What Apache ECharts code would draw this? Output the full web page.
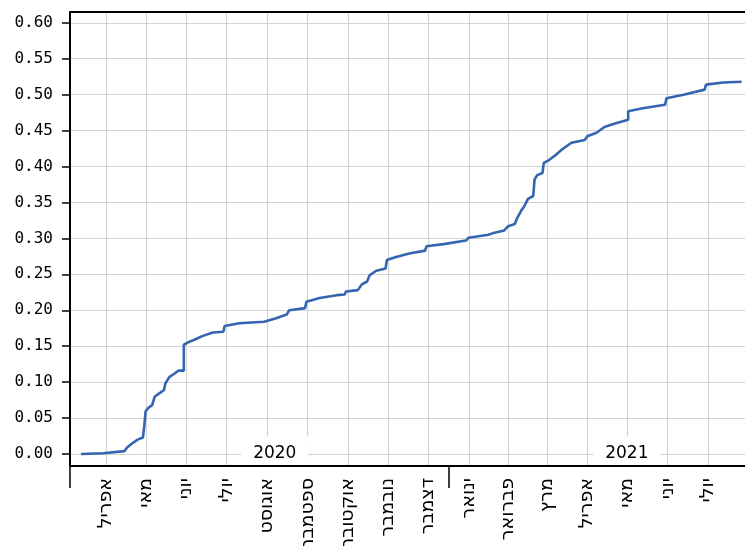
<!DOCTYPE html>
<html>
<head>
<meta charset="utf-8">
<script src="https://cdn.jsdelivr.net/npm/echarts@6/dist/echarts.min.js"></script>
<style>
html, body { margin: 0; padding: 0; background: #fff; }
#chart { width: 745px; height: 546px; }
</style>
</head>
<body>
<div id="chart"></div>
<script>
// data (a repeated date marks a vertical jump)
var dates = ['2020-03-28', '2020-04-14', '2020-04-15', '2020-04-30', '2020-05-02', '2020-05-06',
	'2020-05-10', '2020-05-14', '2020-05-15', '2020-05-15', '2020-05-16', '2020-05-16', '2020-05-18',
	'2020-05-21', '2020-05-22', '2020-05-23', '2020-05-27', '2020-05-30', '2020-05-31', '2020-06-03',
	'2020-06-07', '2020-06-10', '2020-06-14', '2020-06-14', '2020-06-18', '2020-06-22', '2020-06-28',
	'2020-07-06', '2020-07-14', '2020-07-15', '2020-07-26', '2020-08-14', '2020-08-23', '2020-08-31',
	'2020-09-02', '2020-09-14', '2020-09-15', '2020-09-25', '2020-10-08', '2020-10-14', '2020-10-15',
	'2020-10-24', '2020-10-27', '2020-10-31', '2020-11-02', '2020-11-07', '2020-11-14', '2020-11-15',
	'2020-11-15', '2020-11-22', '2020-12-02', '2020-12-14', '2020-12-15', '2020-12-28', '2021-01-14',
	'2021-01-16', '2021-01-31', '2021-02-03', '2021-02-12', '2021-02-15', '2021-02-20', '2021-02-22',
	'2021-02-25', '2021-02-27', '2021-03-02', '2021-03-06', '2021-03-07', '2021-03-07', '2021-03-09',
	'2021-03-13', '2021-03-14', '2021-03-14', '2021-03-18', '2021-03-23', '2021-03-28', '2021-04-04',
	'2021-04-14', '2021-04-16', '2021-04-23', '2021-04-29', '2021-05-07', '2021-05-17', '2021-05-17',
	'2021-05-28', '2021-06-14', '2021-06-15', '2021-06-28', '2021-07-14', '2021-07-15', '2021-07-28',
	'2021-08-11'];
var values = [0.000, 0.001, 0.003, 0.004, 0.009, 0.015,
	0.020, 0.023, 0.023, 0.038, 0.038, 0.059, 0.064,
	0.068, 0.069, 0.080, 0.085, 0.089, 0.098, 0.107,
	0.112, 0.116, 0.116, 0.152, 0.156, 0.159, 0.164,
	0.169, 0.170, 0.178, 0.182, 0.184, 0.189, 0.194,
	0.200, 0.203, 0.212, 0.217, 0.221, 0.222, 0.226,
	0.228, 0.236, 0.240, 0.249, 0.255, 0.258, 0.258,
	0.270, 0.274, 0.279, 0.283, 0.289, 0.292, 0.297,
	0.301, 0.305, 0.307, 0.311, 0.317, 0.320, 0.329,
	0.339, 0.344, 0.355, 0.359, 0.359, 0.382, 0.388,
	0.391, 0.391, 0.405, 0.409, 0.416, 0.424, 0.433,
	0.437, 0.442, 0.447, 0.455, 0.460, 0.465, 0.477,
	0.481, 0.486, 0.495, 0.500, 0.507, 0.514, 0.517,
	0.518];

var monthStarts = ['2020-04-01', '2020-05-01', '2020-06-01', '2020-07-01', '2020-08-01', '2020-09-01',
	'2020-10-01', '2020-11-01', '2020-12-01', '2021-01-01', '2021-02-01', '2021-03-01', '2021-04-01',
	'2021-05-01', '2021-06-01', '2021-07-01', '2021-08-01'];
var monthNames = ['אפריל', 'מאי', 'יוני', 'יולי', 'אוגוסט', 'ספטמבר', 'אוקטובר', 'נובמבר', 'דצמבר',
	'ינואר', 'פברואר', 'מרץ', 'אפריל', 'מאי', 'יוני', 'יולי'];
var yTicks = [0, 0.05, 0.10, 0.15, 0.20, 0.25, 0.30, 0.35, 0.40, 0.45, 0.50, 0.55, 0.60];
var yearNames = ['2020', '2021'];
var yearLabelDates = ['2020-08-22', '2021-05-16'];
var yearBreaks = ['2021-01-01'];

function t(s) {
	return new Date(s.length > 10 ? s : s + 'T00:00:00').getTime();
}

var xMin = t('2020-03-19T17:00:00');
var xMax = t('2021-08-13T14:00:00');

// gridlines and month labels sit at the middle of each month
var monthMids = [];
for (var i = 0; i < monthStarts.length - 1; i++) {
	monthMids.push((t(monthStarts[i]) + t(monthStarts[i + 1])) / 2);
}
var yearTimes = yearLabelDates.map(t);
var breakTimes = [xMin].concat(yearBreaks.map(t));

function nearest(list, v) {
	var best = 0;
	for (var i = 1; i < list.length; i++) {
		if (Math.abs(list[i] - v) < Math.abs(list[best] - v)) best = i;
	}
	return best;
}

var font = 'DejaVu Sans Mono';
var gridColor = '#d3d3d3';

var achart = echarts.init(document.getElementById('chart'));

var option = {
	animation: false,
	backgroundColor: '#fff',
	grid: { left: 70, top: 12, right: 0, bottom: 80, outerBoundsMode: 'none', containLabel: false },
	xAxis: [
		{
			type: 'value',
			min: xMin,
			max: xMax,
			axisLine: { show: false, onZero: false },
			axisTick: { show: false, customValues: monthMids },
			splitLine: { show: true, lineStyle: { color: gridColor, width: 1.2 } },
			axisLabel: {
				customValues: monthMids,
				rotate: 90,
				margin: 12,
				fontFamily: 'DejaVu Sans',
				fontSize: 19,
				color: '#000',
				formatter: function (v) { return monthNames[nearest(monthMids, v)]; }
			}
		},
		{
			type: 'value',
			min: xMin,
			max: xMax,
			position: 'bottom',
			z: 5,
			axisLine: { show: true, onZero: false, lineStyle: { color: '#000', width: 2 } },
			axisTick: { show: true, customValues: breakTimes, length: 22, lineStyle: { color: '#000', width: 1.5 } },
			splitLine: { show: false },
			axisLabel: {
				inside: true,
				margin: 1,
				customValues: yearTimes,
				backgroundColor: '#fff',
				padding: [9, 12, 3, 12],
				fontFamily: 'DejaVu Sans',
				fontSize: 17,
				color: '#000',
				formatter: function (v) { return yearNames[nearest(yearTimes, v)]; }
			}
		},
		{
			type: 'value',
			min: xMin,
			max: xMax,
			position: 'top',
			axisLine: { show: true, onZero: false, lineStyle: { color: '#000', width: 2 } },
			axisTick: { show: false },
			axisLabel: { show: false },
			splitLine: { show: false }
		}
	],
	yAxis: {
		type: 'value',
		min: -0.0167,
		max: 0.615,
		axisLine: { show: true, onZero: false, lineStyle: { color: '#000', width: 2 } },
		axisTick: { show: true, customValues: yTicks, length: 8, lineStyle: { color: '#000', width: 1.5 } },
		splitLine: { show: true, lineStyle: { color: gridColor, width: 1.2 } },
		axisLabel: {
			customValues: yTicks,
			margin: 17,
			fontFamily: font,
			fontSize: 16,
			color: '#000',
			formatter: function (v) { return v.toFixed(2); }
		}
	},
	series: [
		{
			type: 'line',
			showSymbol: false,
			xAxisIndex: 0,
			data: dates.map(function (d, i) { return [t(d), values[i]]; }),
			lineStyle: { color: '#3465b0', width: 2.6 }
		}
	]
};
achart.setOption(option);
</script>
</body>
</html>
